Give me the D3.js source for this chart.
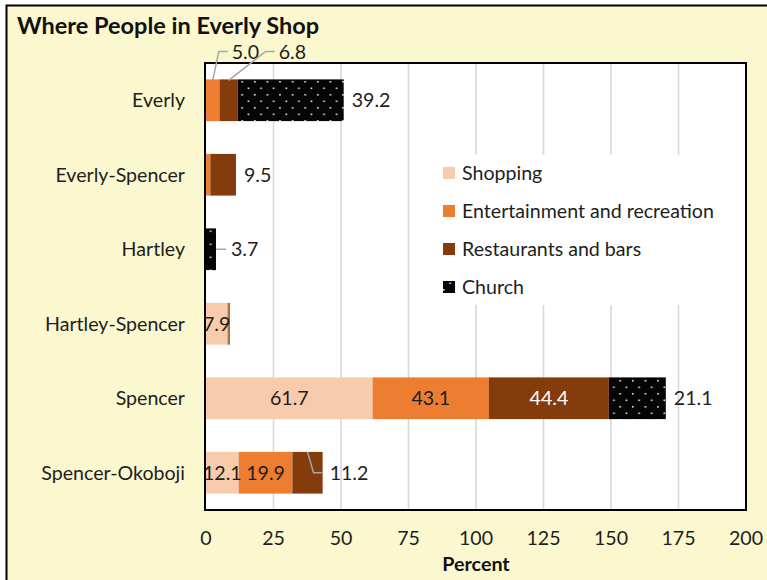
<!DOCTYPE html>
<html><head><meta charset="utf-8">
<script src="https://cdn.jsdelivr.net/npm/d3@7"></script>
<style>
body{margin:0;background:#fff}
svg text{font-family:Lato,"Open Sans",sans-serif;fill:#1e1e1e}
</style>
</head><body>
<svg id="chart" width="767" height="580"></svg>
<script>
// ---- data ----
const categories = ["Everly", "Everly-Spencer", "Hartley", "Hartley-Spencer", "Spencer", "Spencer-Okoboji"];
const seriesNames = ["Shopping", "Entertainment and recreation", "Restaurants and bars", "Church"];
const shopping      = [0,   0,   0,   7.9, 61.7, 12.1];
const entertainment = [5.0, 1.6, 0,   0.4, 43.1, 19.9];
const restaurants   = [6.8, 9.5, 0,   0.5, 44.4, 11.2];
const church        = [39.2, 0,  3.7, 0,   21.1, 0];
const xTicks = [0, 25, 50, 75, 100, 125, 150, 175, 200];

// values that carry a printed label: [category index, series index]
const labelled = [
  [0, 1], [0, 2], [0, 3],
  [1, 2],
  [2, 3],
  [3, 0],
  [4, 0], [4, 1], [4, 2], [4, 3],
  [5, 0], [5, 1], [5, 2]
];

// ---- layout ----
const W = 767, H = 580;
const plot = {left: 206, right: 746, top: 63, bottom: 510};
const colors = ["#F8CBAD", "#ED7D31", "#843C0C", "url(#dots)"];
const fontSize = 19.6;

const svg = d3.select("#chart");

// dotted fill for the Church series
const defs = svg.append("defs");
const pat = defs.append("pattern").attr("id", "dots")
  .attr("patternUnits", "userSpaceOnUse").attr("width", 12.6).attr("height", 13);
pat.append("rect").attr("width", 12.6).attr("height", 13).attr("fill", "#050505");
pat.append("rect").attr("x", 2).attr("y", 3).attr("width", 1.6).attr("height", 1.6).attr("fill", "#e8e8e8");
pat.append("rect").attr("x", 8.3).attr("y", 9.5).attr("width", 1.6).attr("height", 1.6).attr("fill", "#e8e8e8");

// chart area background
svg.append("rect").attr("x", 6.5).attr("y", 5.5).attr("width", W + 20).attr("height", H + 20)
  .attr("fill", "#FBF7CE").attr("stroke", "#000").attr("stroke-width", 2);

// title
svg.append("text").attr("x", 17).attr("y", 34)
  .style("font-size", "23.5px").style("font-weight", 700).style("fill", "#111")
  .text("Where People in Everly Shop");

const x = d3.scaleLinear().domain([0, 200]).range([plot.left, plot.right]);
const y = d3.scaleBand().domain(categories).range([plot.top, plot.bottom])
  .paddingInner(0.44).paddingOuter(0.22);

// plot area
svg.append("rect").attr("x", plot.left - 1).attr("y", plot.top)
  .attr("width", plot.right - plot.left + 1).attr("height", plot.bottom - plot.top).attr("fill", "#fff");

// vertical gridlines
svg.append("g").selectAll("line").data(xTicks.filter(t => t > 0 && t < 200)).join("line")
  .attr("x1", d => x(d)).attr("x2", d => x(d))
  .attr("y1", plot.top).attr("y2", plot.bottom)
  .attr("stroke", "#D9D9D9").attr("stroke-width", 1.6);

// legend box (drawn over the gridlines)
const legend = svg.append("g");
legend.append("rect").attr("x", 433).attr("y", 155).attr("width", 296).attr("height", 150).attr("fill", "#fff");
seriesNames.forEach((name, i) => {
  const cy = 173 + i * 38;
  legend.append("rect").attr("x", 443).attr("y", cy - 6).attr("width", 12).attr("height", 12).attr("fill", colors[i]);
  legend.append("text").attr("x", 462).attr("y", cy).attr("dy", "0.35em")
    .style("font-size", fontSize + "px").text(name);
});

// stacked bars
const table = categories.map((c, i) => ({
  category: c,
  Shopping: shopping[i],
  "Entertainment and recreation": entertainment[i],
  "Restaurants and bars": restaurants[i],
  Church: church[i]
}));
const stacked = d3.stack().keys(seriesNames)(table);

svg.append("g").selectAll("g").data(stacked).join("g")
  .attr("fill", (d, i) => colors[i])
  .selectAll("rect").data(d => d.filter(s => s[1] - s[0] > 0)).join("rect")
  .attr("x", d => x(d[0]))
  .attr("y", d => y(d.data.category))
  .attr("width", d => x(d[1]) - x(d[0]))
  .attr("height", y.bandwidth());

// plot border
svg.append("rect").attr("x", plot.left - 1).attr("y", plot.top)
  .attr("width", plot.right - plot.left + 1).attr("height", plot.bottom - plot.top)
  .attr("fill", "none").attr("stroke", "#000").attr("stroke-width", 2);

// category labels
svg.append("g").selectAll("text").data(categories).join("text")
  .attr("x", 185).attr("y", d => y(d) + y.bandwidth() / 2).attr("dy", "0.35em")
  .attr("text-anchor", "end").style("font-size", fontSize + "px").text(d => d);

// x tick labels
svg.append("g").selectAll("text").data(xTicks).join("text")
  .attr("x", d => x(d)).attr("y", 538).attr("dy", "0.35em")
  .attr("text-anchor", "middle").style("font-size", fontSize + "px").text(d => d);

// x axis title
svg.append("text").attr("x", x(100)).attr("y", 564).attr("dy", "0.35em")
  .attr("text-anchor", "middle").style("font-size", "19.7px").style("font-weight", 700).style("fill", "#111")
  .text("Percent");

// data labels
const labels = svg.append("g");
const leaders = svg.append("g").attr("fill", "none").attr("stroke", "#A6A6A6").attr("stroke-width", 1.5);
const fmt = d3.format(".1f");

labelled.forEach(([ci, si]) => {
  const seg = stacked[si][ci];
  const v = seg[1] - seg[0];
  const top = y(categories[ci]);
  const mid = top + y.bandwidth() / 2;
  const x0 = x(seg[0]), x1 = x(seg[1]), xc = (x0 + x1) / 2;
  const key = ci + "-" + si;
  let tx, ty = mid, anchor = "start", fill = "#1e1e1e";

  if (key === "0-1" || key === "0-2") {
    // callouts above the Everly bar
    tx = xc + (key === "0-1" ? 19 : 50);
    ty = top - 27;
    leaders.append("polyline")
      .attr("points", [[tx - 4, ty - 1], [tx - 13, ty - 1], [xc, top + 1]].map(p => p.join(",")).join(" "));
  } else if (key === "2-3") {
    // short horizontal leader to the Hartley label
    leaders.append("line").attr("x1", x1).attr("x2", x1 + 10).attr("y1", mid).attr("y2", mid);
    tx = x1 + 15;
  } else if (key === "5-2") {
    // leader from the segment top, bending to the label
    leaders.append("polyline")
      .attr("points", [[xc, top], [xc + 6, mid], [x1, mid]].map(p => p.join(",")).join(" "));
    tx = x1 + 7;
  } else if (si === 3 || key === "1-2") {
    tx = x1 + 8;
  } else {
    tx = xc;
    anchor = "middle";
    if (si === 2) fill = "#fff";
  }
  labels.append("text").attr("x", tx).attr("y", ty).attr("dy", "0.35em")
    .attr("text-anchor", anchor).style("font-size", fontSize + "px").style("fill", fill)
    .text(fmt(v));
});
</script>
</body></html>
